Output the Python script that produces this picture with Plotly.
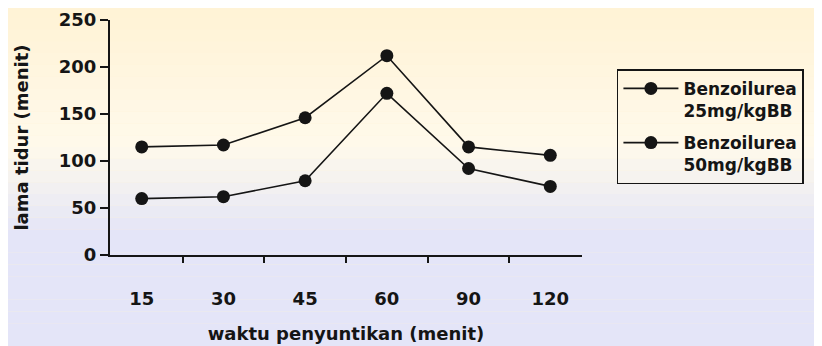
import plotly.graph_objects as go

categories = ["15", "30", "45", "60", "90", "120"]
dose25 = [60, 62, 79, 172, 92, 73]
dose50 = [115, 117, 146, 212, 115, 106]
series_names = ["Benzoilurea<br>25mg/kgBB", "Benzoilurea<br>50mg/kgBB"]
y_ticks = [0, 50, 100, 150, 200, 250]

FONT = "DejaVu Sans, Liberation Sans, Arial, sans-serif"
INK = "#151515"

fig = go.Figure()
for i, (name, vals) in enumerate(zip(series_names, [dose25, dose50])):
    fig.add_trace(go.Scatter(
        x=categories, y=vals, name=name, mode="lines+markers",
        legendgroup="g%d" % i,
        line=dict(color=INK, width=1.6),
        marker=dict(color=INK, size=13, symbol="circle"),
    ))

# scanned-paper style background: cream on top fading to pale lavender
shapes = []
n = 30
top = (255, 243, 214)
mid = (255, 250, 236)
bot = (228, 229, 248)
for i in range(n):
    t = i / (n - 1)
    if t < 0.4:
        u = t / 0.4
        c = tuple(int(top[k] + (mid[k] - top[k]) * u) for k in range(3))
    else:
        u = min(1.0, (t - 0.4) / 0.25)
        c = tuple(int(mid[k] + (bot[k] - mid[k]) * u) for k in range(3))
    shapes.append(dict(type="rect", xref="paper", yref="paper", layer="below",
                       x0=-0.3, x1=1.6, y0=1.06 - (i + 1) * (1.5 / n), y1=1.06 - i * (1.5 / n),
                       fillcolor="rgb(%d,%d,%d)" % c, line=dict(width=0)))

fig.update_layout(
    width=814, height=338,
    margin=dict(l=102, r=240, t=12, b=91, autoexpand=False),
    paper_bgcolor="rgb(255,243,214)", plot_bgcolor="rgba(0,0,0,0)",
    shapes=shapes,
    font=dict(family=FONT, color=INK, size=16),
    showlegend=True,
    legend=dict(x=1.074, y=0.79, xanchor="left", yanchor="top",
                bordercolor=INK, borderwidth=1.5, bgcolor="rgba(0,0,0,0)",
                font=dict(family=FONT, size=17, color=INK, weight="bold"),
                itemwidth=55, valign="top", tracegroupgap=7),
    xaxis=dict(type="category", showgrid=False, zeroline=False, automargin=False,
               showline=True, linecolor=INK, linewidth=2,
               ticks="outside", tickson="boundaries", ticklen=6, tickwidth=2, tickcolor=INK,
               ticklabelstandoff=26,
               tickfont=dict(family=FONT, size=18, color=INK, weight="bold"),
               title=dict(text="waktu penyuntikan (menit)", standoff=20,
                          font=dict(family=FONT, size=18, color=INK, weight="bold"))),
    yaxis=dict(range=[0, 250], tickvals=y_ticks, showgrid=False, zeroline=False, automargin=False,
               showline=True, linecolor=INK, linewidth=2,
               ticks="outside", ticklen=8, tickwidth=2, tickcolor=INK,
               tickfont=dict(family=FONT, size=18, color=INK, weight="bold"),
               title=dict(text="lama tidur (menit)", standoff=26,
                          font=dict(family=FONT, size=18, color=INK, weight="bold"))),
)

fig.write_html("out.html")
